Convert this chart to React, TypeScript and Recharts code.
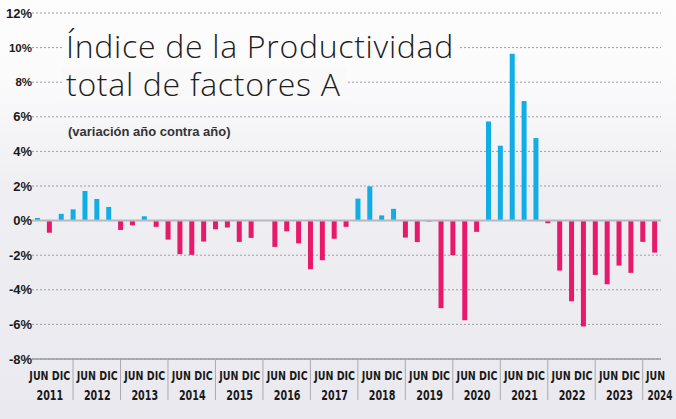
import { BarChart, Bar, XAxis, YAxis, CartesianGrid, ReferenceLine, Cell } from "recharts";

// Variación interanual trimestral, de 2T 2011 a 2T 2024
const years = [2011, 2012, 2013, 2014, 2015, 2016, 2017, 2018, 2019, 2020, 2021, 2022, 2023, 2024];
const firstQuarter = 2;
const quarterValues = [
  0.15, -0.7, 0.39,
  0.65, 1.71, 1.25, 0.79,
  -0.54, -0.27, 0.25, -0.36,
  -1.1, -1.94, -1.98, -1.21,
  -0.5, -0.4, -1.23, -1.0,
  0.03, -1.52, -0.62, -1.31,
  -2.81, -2.29, -1.05, -0.36,
  1.27, 1.98, 0.3, 0.68,
  -0.98, -1.24, -0.05, -5.06,
  -2.0, -5.76, -0.65, 5.73,
  4.33, 9.65, 6.91, 4.77,
  -0.15, -2.89, -4.66, -6.12,
  -3.14, -3.68, -2.6, -3.02,
  -1.23, -1.85,
];
const yTicks = [-8, -6, -4, -2, 0, 2, 4, 6, 8, 10, 12];
const semesterLabel = "JUN DIC";
const lastLabel = "JUN";
const titleLines = ["Índice de la Productividad", "total de factores A"];
const subtitle = "(variación año contra año)";

const data = quarterValues.map((value, i) => {
  const n = i + firstQuarter - 1;
  const year = years[Math.floor(n / 4)];
  const q = (n % 4) + 1;
  return { period: `${year}-T${q}`, year, q, value };
});

const W = 676;
const H = 419;
const PLOT_BOTTOM = 359;
const BLUE = "#10ade6";
const PINK = "#e8186a";
const LABEL_FONT = "'DejaVu Sans Condensed', 'DejaVu Sans', sans-serif";

// texto condensado horizontalmente alrededor de su centro
function Narrow({ x, y, size, sx, children }: any) {
  return (
    <text
      transform={`translate(${x},${y}) scale(${sx},1)`}
      fontFamily={LABEL_FONT}
      fontWeight="bold"
      fontSize={size}
      fill="#1a1a1a"
      textAnchor="middle"
    >
      {children}
    </text>
  );
}

function PeriodTick(props: any) {
  const { x, payload } = props;
  const idx = payload?.index ?? props.index;
  const d = data[idx];
  if (!d) return null;
  const isLast = idx === data.length - 1;
  return (
    <g>
      {d.q === 1 && (
        <line x1={x - 0.5} x2={x - 0.5} y1={PLOT_BOTTOM + 1} y2={400} stroke="#a9a9b1" strokeWidth={1} />
      )}
      {d.q === 3 && (
        <g>
          <Narrow x={x} y={380} size={11.5} sx={0.92}>{semesterLabel}</Narrow>
          <Narrow x={x} y={400} size={13.5} sx={0.79}>{d.year}</Narrow>
        </g>
      )}
      {isLast && (
        <g>
          <Narrow x={x + 0.5} y={380} size={11.5} sx={0.91}>{lastLabel}</Narrow>
          <Narrow x={x + 5} y={400} size={13.5} sx={0.74}>{d.year}</Narrow>
        </g>
      )}
    </g>
  );
}

function PercentTick(props: any) {
  const { y, payload } = props;
  const v = payload.value;
  const small = v === 10 || v === 8;
  return (
    <text
      x={32}
      y={y + (small ? 4 : 4.5)}
      textAnchor="end"
      fontFamily="'Liberation Sans', Arial, sans-serif"
      fontWeight="bold"
      fontSize={small ? 11.5 : 13}
      fill="#1a1a1a"
    >
      {`${v}%`}
    </text>
  );
}

const titleStyle = {
  position: "absolute" as const,
  left: 62,
  fontFamily: "'Open Sans', Lato, sans-serif",
  fontWeight: 300,
  fontSize: 32,
  letterSpacing: 0.7,
  lineHeight: "34px",
  color: "#1e1e1e",
  padding: "0 5px 0 4px",
  whiteSpace: "nowrap" as const,
  pointerEvents: "none" as const,
};

export default function App() {
  return (
    <div
      style={{
        position: "absolute",
        left: 0,
        top: 0,
        width: W,
        height: H,
        overflow: "hidden",
        background: "linear-gradient(to bottom, #fdfdfd 0%, #fbfbfc 18%, #efeff3 45%, #e9e9ef 100%)",
      }}
    >
      <BarChart
        width={W}
        height={H}
        data={data}
        margin={{ top: 13, right: 15, bottom: 10, left: 0 }}
        barSize={5}
      >
        <CartesianGrid vertical={false} stroke="#9c9ca4" strokeDasharray="2 2" />
        <XAxis
          dataKey="period"
          interval={0}
          height={50}
          axisLine={false}
          tickLine={false}
          tick={<PeriodTick />}
        />
        <YAxis
          width={32}
          domain={[-8, 12]}
          ticks={yTicks}
          axisLine={false}
          tickLine={false}
          tick={<PercentTick />}
        />
        <Bar dataKey="value" isAnimationActive={false}>
          {data.map((d) => (
            <Cell key={d.period} fill={d.value >= 0 ? BLUE : PINK} />
          ))}
        </Bar>
        <ReferenceLine y={0} stroke="#b8b8c0" strokeWidth={2} />
        <ReferenceLine y={-8} stroke="#9a9aa3" strokeWidth={1.5} />
      </BarChart>

      <div style={{ ...titleStyle, top: 28.5, background: "#fcfcfc" }}>{titleLines[0]}</div>
      <div style={{ ...titleStyle, top: 67, background: "#f9f9fa" }}>{titleLines[1]}</div>
      <div
        style={{
          position: "absolute",
          left: 68,
          top: 124,
          fontFamily: "'Liberation Sans', Arial, sans-serif",
          fontWeight: "bold",
          fontSize: 13,
          color: "#333",
          pointerEvents: "none",
        }}
      >
        {subtitle}
      </div>
    </div>
  );
}
